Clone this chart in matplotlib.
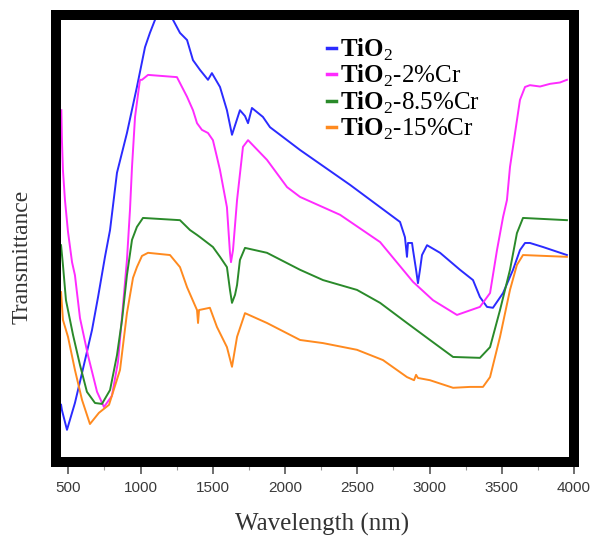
import numpy as np
import matplotlib
matplotlib.use("Agg")
import matplotlib.pyplot as plt
from matplotlib.ticker import MultipleLocator

plt.rcParams['mathtext.fontset'] = 'custom'
plt.rcParams['mathtext.rm'] = 'Liberation Serif'
plt.rcParams['mathtext.bf'] = 'Liberation Serif:bold'

# --- data (wavelength in nm, transmittance in a.u.) ---
wl_tio2 = [450, 456, 491, 546, 595, 664, 706, 754, 789, 837, 906, 975, 1031, 1065,
           1100, 1135, 1190, 1225, 1273, 1322, 1363, 1412, 1467, 1494, 1550, 1598,
           1633, 1688, 1723, 1744, 1771, 1847, 1896, 2104, 2450, 2796, 2830, 2844,
           2851, 2879, 2886, 2907, 2920, 2934, 2948, 2983, 3073, 3211, 3301, 3349,
           3398, 3439, 3509, 3578, 3626, 3661, 3695, 3785, 3951]
t_tio2 = [12.8, 11.6, 7.2, 13.2, 19.9, 29.5, 36.9, 45.9, 51.9, 64.7, 73.6, 83.9, 92.8, 96.0,
          98.9, 101.1, 101.3, 98.9, 96.0, 94.4, 89.9, 87.7, 85.5, 87.0, 83.9, 78.7,
          73.2, 78.7, 77.4, 75.8, 79.2, 77.2, 74.9, 69.8, 62.0, 53.7, 50.3, 45.9,
          49.0, 49.0, 47.4, 43.0, 40.0, 43.0, 46.3, 48.5, 46.8, 43.0, 40.7, 36.9,
          34.7, 34.5, 37.8, 43.0, 47.4, 49.0, 49.0, 48.1, 46.3]

wl_2cr = [452, 456, 463, 477, 498, 526, 546, 581, 636, 699, 747, 802, 844, 879, 906,
          927, 941, 962, 996, 1010, 1052, 1252, 1322, 1363, 1391, 1425, 1467, 1501,
          1529, 1550, 1598, 1619, 1626, 1640, 1668, 1709, 1744, 1875, 2014, 2104,
          2381, 2658, 2886, 3024, 3190, 3349, 3419, 3467, 3509, 3536, 3557, 3626,
          3661, 3695, 3765, 3834, 3903, 3951]
t_2cr = [78.7, 72.0, 65.3, 58.6, 51.5, 44.7, 41.8, 32.2, 23.9, 15.7, 12.3, 14.8, 22.4,
         35.1, 45.2, 56.4, 66.0, 77.2, 85.5, 85.5, 86.6, 86.1, 81.7, 78.7, 75.8, 74.3,
         73.6, 72.0, 68.2, 65.3, 57.0, 46.8, 44.7, 47.4, 58.6, 70.5, 72.0, 67.6, 61.5,
         59.3, 55.3, 49.2, 40.3, 36.2, 32.9, 34.7, 37.8, 47.4, 54.8, 58.6, 66.0, 81.0,
         83.9, 84.3, 84.0, 84.6, 84.9, 85.5]

wl_85cr = [450, 463, 484, 533, 581, 629, 685, 733, 789, 837, 872, 906, 941, 975, 1017,
           1273, 1342, 1391, 1412, 1501, 1550, 1598, 1619, 1633, 1654, 1668, 1688,
           1723, 1875, 2104, 2263, 2498, 2658, 2844, 3003, 3163, 3349, 3419, 3488,
           3557, 3605, 3647, 3951]
t_85cr = [48.5, 44.1, 36.2, 28.4, 21.7, 15.7, 13.2, 13.0, 16.1, 23.9, 31.8, 41.8, 49.7,
          52.6, 54.6, 54.1, 51.9, 50.8, 50.3, 48.1, 45.9, 43.6, 38.5, 35.6, 37.4, 39.6,
          45.2, 47.9, 46.8, 43.0, 40.7, 38.5, 35.6, 31.1, 27.3, 23.5, 23.3, 25.7, 34.0,
          43.0, 51.2, 54.6, 54.1]

wl_15cr = [450, 463, 498, 546, 595, 650, 712, 782, 858, 906, 948, 975, 1010, 1052, 1204,
           1273, 1322, 1384, 1391, 1398, 1405, 1480, 1529, 1598, 1633, 1668, 1723, 1875,
           2104, 2263, 2498, 2678, 2844, 2893, 2907, 2920, 3003, 3163, 3280, 3370, 3419,
           3488, 3557, 3605, 3647, 3951]
t_15cr = [38.0, 31.8, 28.0, 20.6, 13.9, 8.5, 11.0, 12.8, 20.6, 33.3, 41.2, 43.6, 46.1,
          46.8, 46.3, 43.6, 39.1, 34.5, 34.0, 31.1, 34.0, 34.5, 30.2, 25.7, 21.3, 28.0,
          33.3, 31.1, 27.3, 26.6, 25.1, 22.8, 19.0, 18.3, 19.5, 18.8, 18.3, 16.6, 16.8,
          16.8, 19.0, 28.0, 38.5, 44.1, 46.3, 45.9]

series = [
    (wl_tio2, t_tio2, '#2b2bff', r'$\mathbf{TiO}_{2}$'),
    (wl_2cr, t_2cr, '#ff2bff', r'$\mathbf{TiO}_{2}$-2%Cr'),
    (wl_85cr, t_85cr, '#2a8a2a', r'$\mathbf{TiO}_{2}$-8.5%Cr'),
    (wl_15cr, t_15cr, '#ff8a1f', r'$\mathbf{TiO}_{2}$-15%Cr'),
]

fig = plt.figure(figsize=(5.93, 5.41), dpi=100)
ax = fig.add_axes([56 / 593, 1 - 462 / 541, 518 / 593, 447 / 541])

for wl, t, c, lab in series:
    ax.plot(wl, t, color=c, lw=1.4, label=lab)

ax.set_xlim(415, 4000)
ax.set_ylim(0, 100)

for s in ax.spines.values():
    s.set_linewidth(7.2)
    s.set_color('black')

ax.set_yticks([])
ax.xaxis.set_major_locator(MultipleLocator(500))
ax.xaxis.set_minor_locator(MultipleLocator(250))
ax.tick_params(axis='x', which='major', direction='out', length=8.5, width=1.2,
               color='#555555', pad=5, labelsize=11, labelcolor='#3a3a3a')
ax.tick_params(axis='x', which='minor', direction='out', length=5.5, width=0.8,
               color='#999999')
for lbl in ax.get_xticklabels():
    lbl.set_fontfamily('Liberation Sans')

ax.set_xlabel('Wavelength (nm)', fontfamily='Liberation Serif', fontsize=18,
              color='#333333', va='center')
ax.xaxis.set_label_coords(0.5135, -0.1387)
ax.set_ylabel('Transmittance', fontfamily='Liberation Serif', fontsize=17,
              color='#333333', va='center')
ax.yaxis.set_label_coords(-0.0656, 0.4586)

leg = ax.legend(loc='upper left', bbox_to_anchor=(327 / 593, 1 - 37 / 541),
                bbox_transform=fig.transFigure, frameon=False, handlelength=0.35,
                handletextpad=0.15, labelspacing=0.0, borderaxespad=0, borderpad=0,
                prop={'family': 'Liberation Serif', 'size': 18})
for h in leg.get_lines():
    h.set_linewidth(2.5)

fig.savefig('out.png', dpi=100)
